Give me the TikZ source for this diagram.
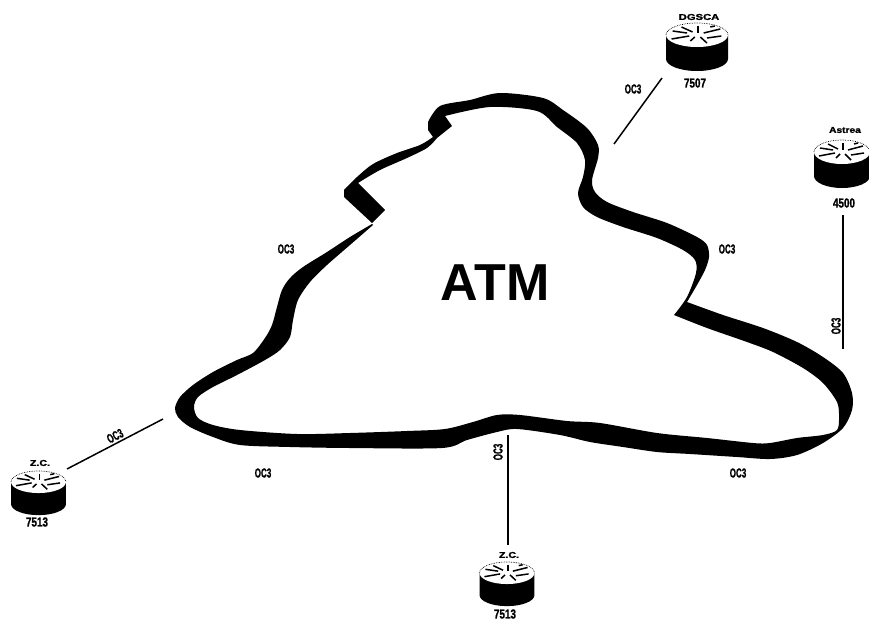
\documentclass[tikz,border=0pt]{standalone}
\usepackage{fontspec}
\setmainfont{Liberation Sans}
\newfontfamily\heavyfont[FakeBold=1.5]{Liberation Sans Bold}
\newcommand{\oclabel}[1]{\scalebox{.62}[1]{\fontsize{13}{13}\selectfont\heavyfont #1}}
\newcommand{\numlabel}[1]{\scalebox{.76}[1]{\fontsize{13}{13}\selectfont\heavyfont #1}}
\newcommand{\namelabel}[2]{\scalebox{#1}[1]{\fontsize{8.5}{8.5}\selectfont\heavyfont #2}}
\tikzset{
  txt/.style={inner sep=0pt,outer sep=0pt,text=black},
  link/.style={draw=black,line width=1.5pt},
  band/.style={fill=black,draw=none},
  spoke/.style={draw=black,line width=1.5pt},
  pics/router/.style={code={
    \fill[black] (-28,0) -- (-28,24) arc[start angle=180,end angle=360,x radius=28,y radius=-12] -- (28,0) -- cycle;
    \fill[white] (0,0) ellipse [x radius=28,y radius=12];
    \draw[black,line width=.7pt,densely dotted] (-28,0) arc[start angle=180,end angle=360,x radius=28,y radius=12];
    \draw[spoke] (-22,-4) -- (-9,-2);
    \draw[spoke] (-23,4) -- (-7,1);
    \draw[spoke] (-14,-8) -- (-4,-3);
    \draw[spoke] (-6,6) -- (-2,2);
    \draw[spoke] (1,-9) -- (1,-2);
    \draw[spoke] (3,2) -- (9,8);
    \draw[spoke] (6,-2) -- (21,-6);
    \draw[spoke] (9,3) -- (22,1);
    \draw[spoke] (12,-8) -- (16,-9);
  }}
}
\begin{document}
\begin{tikzpicture}[x=1pt,y=-1pt]
\useasboundingbox (0,0) rectangle (869,621);
% ATM ribbon
\fill[band] (372,223) -- (344,197) -- (344,190) --
  plot[smooth,tension=.5] coordinates {(344,190) (357,177) (373,164) (397,153) (420,145) (433,137)} --
  (428,130) -- (428,122) --
  plot[smooth,tension=.5] coordinates {(428,122) (440,106) (470,100) (500,93) (543,98) (563,110) (587,128) (598,145) (598,158) (592,180) (595,192) (607,202) (633,212) (667,223) (697,237) (707,245) (709,257) (705,270) (697,285) (687,302)} --
  plot[smooth,tension=.5] coordinates {(687,302) (723,315) (763,328) (797,342) (823,357) (843,373) (852,393) (852,410) (843,428) (823,443) (797,455) (770,459) (737,457) (690,454) (657,452) (623,447) (590,442) (560,435) (517,429) (497,432) (467,440) (442,448) (350,448) (290,447) (240,445) (213,437) (190,427) (178,417) (175,408) (180,397) (193,385) (213,372) (237,360) (253,353) (265,338) (272,325) (277,307) (282,290) (290,278) (303,267) (327,252) (350,237) (372,224)} --
  (373,225) --
  plot[smooth,tension=.5] coordinates {(373,225) (350,245) (327,265) (310,282) (298,300) (293,320) (290,337) (280,350) (265,360) (237,375) (213,387) (198,397) (194,407) (198,418) (213,425) (240,430) (297,434) (350,433) (407,431) (445,429) (473,422) (497,415) (520,415) (567,421) (600,423) (657,433) (707,438) (753,443) (770,443) (797,438) (823,435) (837,430) (839,417) (837,402) (823,383) (803,368) (773,352) (747,342) (707,328) (674,315)} --
  plot[smooth,tension=.5] coordinates {(674,315) (687,297) (696,273) (695,260) (683,250) (657,238) (623,227) (597,217) (583,207) (578,193) (583,177) (585,160) (577,143) (557,127) (537,111) (490,107) (445,116)} --
  (452,126) --
  plot[smooth,tension=.5] coordinates {(437,138) (427,148) (407,158) (380,170) (358,183)} --
  (385,210) -- cycle;
\node[txt,font=\fontsize{52}{52}\selectfont\bfseries] (atm) at (495,283) {ATM};
% routers
\pic (dgsca) at (697,35) [xscale=1.107,yscale=1] {router};
\pic (astrea) at (842,152) {router};
\pic (zcleft) at (38.5,482) [xscale=.98,yscale=.92] {router};
\pic (zcbottom) at (507,573) [xscale=.98,yscale=.92] {router};
% router labels
\node[txt] (ndgsca) at (699,17) {\namelabel{1.32}{DGSCA}};
\node[txt] (n7507) at (695,83) {\numlabel{7507}};
\node[txt] (nastrea) at (845,130) {\namelabel{1.2}{Astrea}};
\node[txt] (n4500) at (844,203) {\numlabel{4500}};
\node[txt] (nzcl) at (40,463) {\namelabel{1.25}{Z.C.}};
\node[txt] (n7513l) at (37,522) {\numlabel{7513}};
\node[txt] (nzcb) at (509,555) {\namelabel{1.25}{Z.C.}};
\node[txt] (n7513b) at (505,614) {\numlabel{7513}};
% connectors
\coordinate (la) at (662,78); \coordinate (lb) at (614,144);
\coordinate (lc) at (843,215); \coordinate (ld) at (843,349);
\coordinate (le) at (67,469); \coordinate (lf) at (163,419);
\coordinate (lg) at (508,435); \coordinate (lh) at (508,545);
\draw[link] (la) -- (lb);
\draw[link] (lc) -- (ld);
\draw[link] (le) -- (lf);
\draw[link] (lg) -- (lh);
% OC3 labels
\node[txt] (oa) at (633,89) {\oclabel{OC3}};
\node[txt] (ob) at (727,249) {\oclabel{OC3}};
\node[txt,rotate=90] (oc) at (836,326) {\oclabel{OC3}};
\node[txt] (od) at (738,473) {\oclabel{OC3}};
\node[txt,rotate=90] (oe) at (498,452) {\oclabel{OC3}};
\node[txt] (of) at (263,473) {\oclabel{OC3}};
\node[txt,rotate=27] (og) at (115,436) {\oclabel{OC3}};
\node[txt] (oh) at (286,249) {\oclabel{OC3}};
\end{tikzpicture}
\end{document}
